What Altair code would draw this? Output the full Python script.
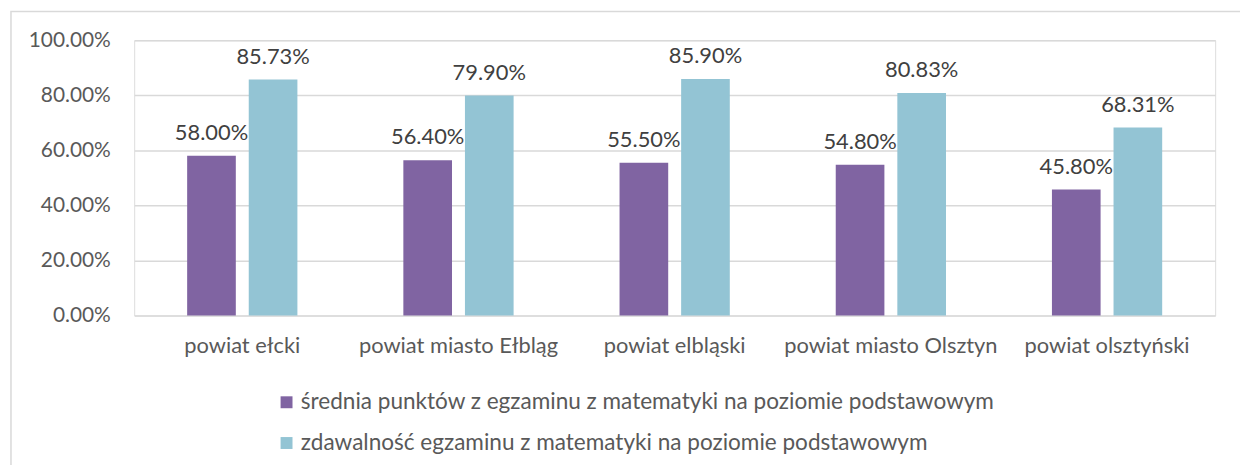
import altair as alt
import pandas as pd

categories = ["powiat ełcki", "powiat miasto Ełbląg", "powiat elbląski", "powiat miasto Olsztyn", "powiat olsztyński"]
series_names = [
    "średnia punktów z egzaminu z matematyki na poziomie podstawowym",
    "zdawalność egzaminu z matematyki na poziomie podstawowym",
]
avg_points = [0.58, 0.564, 0.555, 0.548, 0.458]
pass_rate = [0.8573, 0.799, 0.859, 0.8083, 0.6831]
colors = ["#8064A2", "#93C4D4"]

rows = []
for c, a, p in zip(categories, avg_points, pass_rate):
    rows.append({"cat": c, "series": series_names[0], "value": a})
    rows.append({"cat": c, "series": series_names[1], "value": p})
df = pd.DataFrame(rows)

FONT = "Lato"

x = alt.X("cat:N", sort=categories, title=None,
          scale=alt.Scale(paddingInner=0, paddingOuter=0),
          axis=alt.Axis(labelAngle=0, domain=False, ticks=False, labelPadding=20, labelLimit=300,
                        labelFontSize=22, labelColor="#595959", labelFont=FONT))
xo = alt.XOffset("series:N", sort=series_names,
                 scale=alt.Scale(paddingInner=0.21, paddingOuter=0.86))
y = alt.Y("value:Q", title=None, scale=alt.Scale(domain=[0, 1]),
          axis=alt.Axis(format=".2%", values=[0, 0.2, 0.4, 0.6, 0.8, 1.0], domain=False, ticks=False,
                        labelPadding=24, labelFontSize=21, labelColor="#595959", labelFont=FONT,
                        gridColor="#D9D9D9", gridWidth=1.5))

bars = alt.Chart(df).mark_bar().encode(
    x=x, xOffset=xo, y=y,
    color=alt.Color("series:N", sort=series_names,
                    scale=alt.Scale(domain=series_names, range=colors),
                    legend=alt.Legend(title=None, orient="none", legendX=142, legendY=353,
                                      direction="vertical", symbolType="square", symbolSize=144,
                                      symbolStrokeWidth=0, rowPadding=17, labelFontSize=22.7,
                                      labelColor="#595959", labelFont=FONT, labelLimit=900,
                                      labelOffset=3)),
)

labels = alt.Chart(df).mark_text(dy=-23, fontSize=22, color="#404040", font=FONT).encode(
    x=x, xOffset=xo, y=y, text=alt.Text("value:Q", format=".2%"),
)

frame = alt.Chart(pd.DataFrame({"a": [0]})).mark_rect(fill=None, stroke="#D9D9D9", strokeWidth=1.5).encode(
    x=alt.value(-124), x2=alt.value(1130), y=alt.value(-29), y2=alt.value(500),
)

chart = alt.layer(frame, bars, labels).properties(
    width=1088, height=277,
    autosize=alt.AutoSizeParams(type="none"),
    padding={"left": 127, "top": 31, "right": 25, "bottom": 149},
).configure_view(stroke=None).configure(font=FONT, background="white")

chart.save("out.html", embed_options={"renderer": "svg", "actions": False})
